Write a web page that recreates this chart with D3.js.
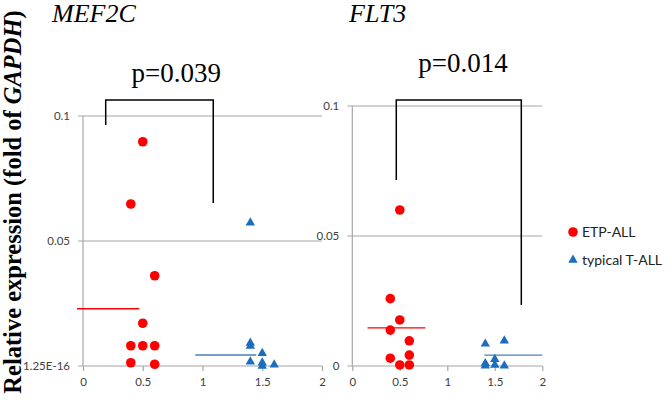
<!DOCTYPE html>
<html><head><meta charset="utf-8">
<script src="https://cdn.jsdelivr.net/npm/d3@7"></script>
<style>body{margin:0;background:#fff}svg{display:block}</style>
</head><body><div id="chart"></div>
<script>
// ---- data ----
const genes = ["MEF2C", "FLT3"];
const pLabels = ["p=0.039", "p=0.014"];
const seriesNames = ["ETP-ALL", "typical T-ALL"];
const yTicks = [0, 0.05, 0.1];
const yTickLabelsMEF2C = ["1.25E-16", "0.05", "0.1"];
const yTickLabelsFLT3 = ["0", "0.05", "0.1"];
const xTicks = [0, 0.5, 1, 1.5, 2];
// MEF2C
const mef2cEtpX = [0.5, 0.4, 0.6, 0.5, 0.4, 0.5, 0.6, 0.4, 0.6];
const mef2cEtpY = [0.0897, 0.0648, 0.0361, 0.0171, 0.0081, 0.0081, 0.0081, 0.0013, 0.0007];
const mef2cTypX = [1.4, 1.4, 1.4, 1.5, 1.4, 1.5, 1.5, 1.6];
const mef2cTypY = [0.0573, 0.0092, 0.0080, 0.0051, 0.0017, 0.0013, 0.0000, 0.0005];
const mef2cEtpMean = {x0: -0.05, x1: 0.47, y: 0.0229};
const mef2cTypMean = {x0: 0.94, x1: 1.45, y: 0.0044};
const mef2cBracket = {x0: 0.19, x1: 1.09, top: 0.1064, left: 0.0964, right: 0.0652, px: 0.78, py: 0.1136};
// FLT3
const flt3EtpX = [0.5, 0.4, 0.5, 0.4, 0.6, 0.6, 0.4, 0.5, 0.6];
const flt3EtpY = [0.0600, 0.0259, 0.0177, 0.0138, 0.0097, 0.0042, 0.0030, 0.0004, 0.0004];
const flt3TypX = [1.4, 1.6, 1.4, 1.5, 1.5, 1.6, 1.4];
const flt3TypY = [0.0085, 0.0097, 0.0010, 0.0026, 0.0004, 0.0001, 0.0001];
const flt3EtpMean = {x0: 0.16, x1: 0.77, y: 0.0147};
const flt3TypMean = {x0: 1.39, x1: 2.0, y: 0.0042};
const flt3Bracket = {x0: 0.463, x1: 1.779, top: 0.1023, left: 0.0715, right: 0.0235, px: 1.165, py: 0.113};

const W = 668, H = 403;
const svg = d3.select("#chart").append("svg").attr("width", W).attr("height", H);

const red = "#ff0000", blue = "#1a6ec0", blueLine = "#4a7ebb", grid = "#a6a6a6", tickText = "#404040";
const sans = "Lato, Open Sans, Liberation Sans, sans-serif";

const panels = [
  {gene: genes[0], p: pLabels[0], x: d3.scaleLinear([0, 2], [83, 322]), y: d3.scaleLinear([0, 0.1], [366, 116]),
   yLabels: yTickLabelsMEF2C, etpX: mef2cEtpX, etpY: mef2cEtpY, typX: mef2cTypX, typY: mef2cTypY,
   etpMean: mef2cEtpMean, typMean: mef2cTypMean, br: mef2cBracket, titleX: 52},
  {gene: genes[1], p: pLabels[1], x: d3.scaleLinear([0, 2], [352.3, 542.3]), y: d3.scaleLinear([0, 0.1], [366, 106]),
   yLabels: yTickLabelsFLT3, etpX: flt3EtpX, etpY: flt3EtpY, typX: flt3TypX, typY: flt3TypY,
   etpMean: flt3EtpMean, typMean: flt3TypMean, br: flt3Bracket, titleX: 349}
];

const tri = d3.symbol().type(d3.symbolTriangle).size(38);

panels.forEach(P => {
  const g = svg.append("g");
  const [x0, x1] = P.x.range();
  // gridlines
  g.selectAll(".grid").data(yTicks).join("line")
    .attr("x1", x0 - 5).attr("x2", x1)
    .attr("y1", d => P.y(d)).attr("y2", d => P.y(d))
    .attr("stroke", grid).attr("stroke-width", 1.2);
  // y axis line
  g.append("line").attr("x1", x0).attr("x2", x0).attr("y1", P.y(0)).attr("y2", P.y(0.1))
    .attr("stroke", grid).attr("stroke-width", 1.2);
  // y tick labels
  g.selectAll(".yl").data(yTicks).join("text")
    .attr("x", x0 - 13).attr("y", d => P.y(d) + 4)
    .attr("text-anchor", "end").attr("font-family", sans)
    .attr("font-size", 11.5).attr("fill", tickText)
    .text((d, i) => P.yLabels[i]);
  // x axis
  const xa = d3.axisBottom(P.x).tickValues(xTicks).tickSize(5).tickPadding(7)
    .tickFormat(d => String(d));
  const ax = g.append("g").attr("transform", `translate(0,${P.y(0)})`).call(xa);
  ax.select(".domain").remove();
  ax.selectAll(".tick line").attr("stroke", grid).attr("stroke-width", 1.2);
  ax.selectAll(".tick text").attr("font-family", sans)
    .attr("font-size", 11.5).attr("fill", tickText);

  // mean lines
  g.append("line").attr("x1", P.x(P.etpMean.x0)).attr("x2", P.x(P.etpMean.x1))
    .attr("y1", P.y(P.etpMean.y)).attr("y2", P.y(P.etpMean.y)).attr("stroke", red).attr("stroke-width", 1.3);
  g.append("line").attr("x1", P.x(P.typMean.x0)).attr("x2", P.x(P.typMean.x1))
    .attr("y1", P.y(P.typMean.y)).attr("y2", P.y(P.typMean.y)).attr("stroke", blueLine).attr("stroke-width", 1.3);

  // points
  g.selectAll(".etp").data(P.etpX.map((v, i) => [v, P.etpY[i]])).join("circle")
    .attr("cx", d => P.x(d[0])).attr("cy", d => P.y(d[1])).attr("r", 4.8).attr("fill", red);
  g.selectAll(".typ").data(P.typX.map((v, i) => [v, P.typY[i]])).join("path")
    .attr("d", tri).attr("transform", d => `translate(${P.x(d[0])},${P.y(d[1])})`).attr("fill", blue);

  // bracket
  const b = P.br;
  g.append("path")
    .attr("d", `M${P.x(b.x0)},${P.y(b.left)}V${P.y(b.top)}H${P.x(b.x1)}V${P.y(b.right)}`)
    .attr("fill", "none").attr("stroke", "#000").attr("stroke-width", 1.5);
  g.append("text").attr("x", P.x(b.px)).attr("y", P.y(b.py)).attr("text-anchor", "middle")
    .attr("font-family", "Liberation Serif, Times New Roman, serif").attr("font-size", 27).text(P.p);

  // title
  svg.append("text").attr("x", P.titleX).attr("y", 22)
    .attr("font-family", "Liberation Serif, Times New Roman, serif").attr("font-style", "italic")
    .attr("font-size", 26).text(P.gene);
});

// y axis title
const yt = svg.append("text").attr("transform", "translate(21,202) rotate(-90)")
  .attr("text-anchor", "middle").attr("font-family", "Liberation Serif, Times New Roman, serif")
  .attr("font-weight", "bold").attr("font-size", 24.5);
yt.append("tspan").text("Relative expression (fold of ");
yt.append("tspan").attr("font-style", "italic").text("GAPDH");
yt.append("tspan").text(")");

// legend
const lg = svg.append("g").attr("font-family", sans).attr("font-size", 14).attr("fill", "#222");
lg.append("circle").attr("cx", 573).attr("cy", 232).attr("r", 4.8).attr("fill", red);
lg.append("text").attr("x", 582).attr("y", 237).text(seriesNames[0]);
lg.append("path").attr("d", tri).attr("transform", "translate(573,260)").attr("fill", blue);
lg.append("text").attr("x", 582).attr("y", 265).text(seriesNames[1]);
</script></body></html>
